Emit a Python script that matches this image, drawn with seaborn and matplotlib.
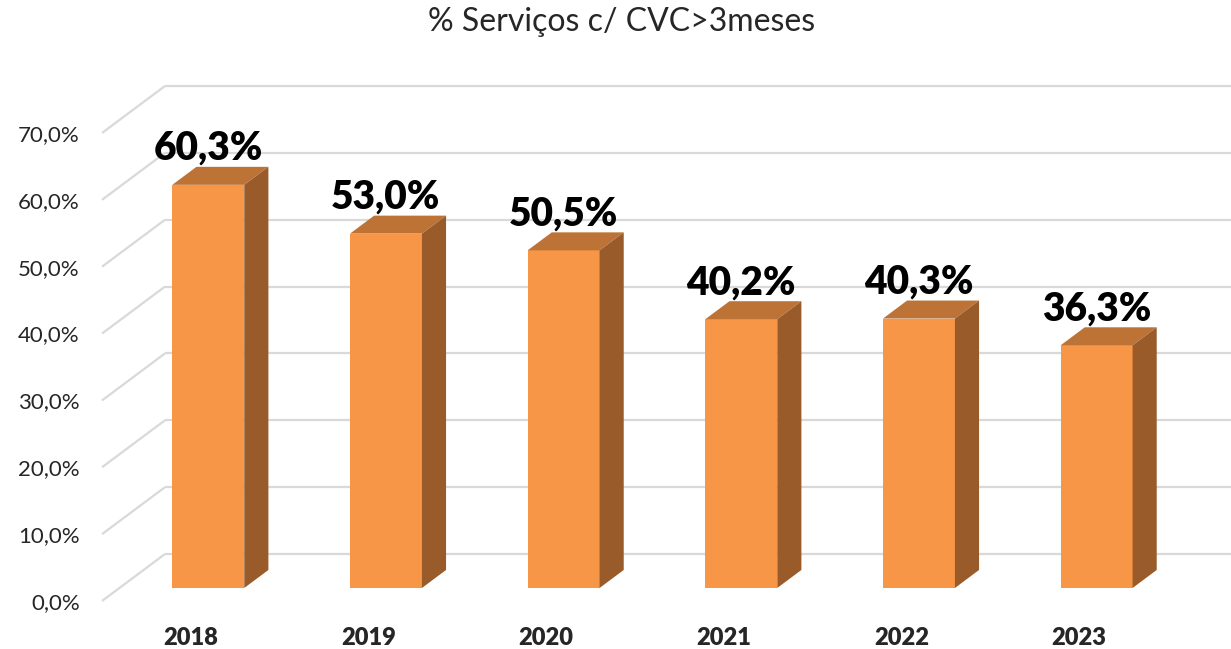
import seaborn as sns
import matplotlib.pyplot as plt
from matplotlib.patches import Polygon

# data
years = ['2018', '2019', '2020', '2021', '2022', '2023']
values = [60.3, 53.0, 50.5, 40.2, 40.3, 36.3]
yticks = [0, 10, 20, 30, 40, 50, 60, 70]

front_color = '#F79646'
top_color = '#BE7336'
side_color = '#9A5B2A'
grid_color = '#D9D9D9'

sns.set_style('white')
plt.rcParams['font.family'] = ['Lato', 'DejaVu Sans']

W, H = 1231, 649
fig = plt.figure(figsize=(W / 100, H / 100), dpi=100)
# front plane of the 3d box, in pixels
left, right, bottom, top = 102, 1168, 601, 133
ax = fig.add_axes([left / W, (H - bottom) / H, (right - left) / W, (bottom - top) / H])
ax.set_xlim(-0.5, 5.5)
ax.set_ylim(0, 70)

# pixels -> data units
px_x = 6 / (right - left)
px_y = 70 / (bottom - top)
DX, DY = 63, 47          # full depth of the box in pixels
d0, d1 = 0.277, 0.66     # bar front / back depth

# walls: gridlines on left wall and back wall
for y in yticks:
    x0, x1 = -0.5, -0.5 + DX * px_x
    y1 = y + DY * px_y
    ax.plot([x0, x1], [y, y1], color=grid_color, lw=1.6, clip_on=False, zorder=0,
            solid_capstyle='butt')
    ax.plot([x1, 5.5 + DX * px_x], [y1, y1], color=grid_color, lw=1.6, clip_on=False,
            zorder=0, solid_capstyle='butt')

sns.barplot(x=years, y=values, order=years, color=front_color, saturation=1,
            width=0.405, errorbar=None, linewidth=0, ax=ax, zorder=2)

ox, oy = d0 * DX * px_x, d0 * DY * px_y
ddx, ddy = (d1 - d0) * DX * px_x, (d1 - d0) * DY * px_y
for p, v in zip(ax.patches, values):
    p.set_x(p.get_x() + ox)
    p.set_y(oy)
    p.set_clip_on(False)
    xl = p.get_x()
    xr = xl + p.get_width()
    yb = oy
    yt = oy + v
    ax.add_patch(Polygon([(xl, yt), (xr, yt), (xr + ddx, yt + ddy), (xl + ddx, yt + ddy)],
                         closed=True, facecolor=top_color, edgecolor='none',
                         clip_on=False, zorder=2))
    ax.add_patch(Polygon([(xr, yb), (xr + ddx, yb + ddy), (xr + ddx, yt + ddy), (xr, yt)],
                         closed=True, facecolor=side_color, edgecolor='none',
                         clip_on=False, zorder=2))
    ax.annotate(f'{v:.1f}%'.replace('.', ','), xy=(xl + p.get_width() / 2, yt + ddy),
                xytext=(0, 5), textcoords='offset points', ha='center', va='baseline',
                fontsize=28, fontweight='heavy', color='black', zorder=3)

ax.set_yticks(yticks)
ax.set_yticklabels([f'{t:.1f}%'.replace('.', ',') for t in yticks], fontsize=16)
ax.set_xticks(range(len(years)))
ax.set_xticklabels(years, fontsize=17, fontweight='heavy')
ax.tick_params(axis='y', length=0, pad=16)
ax.tick_params(axis='x', length=0, pad=19)
ax.set_xlabel('')
ax.set_ylabel('')
for s in ax.spines.values():
    s.set_visible(False)

fig.text(622 / W, 1 - 22 / H, '% Serviços c/ CVC>3meses', ha='center', va='center',
         fontsize=23)

plt.savefig('out.png', dpi=100)
